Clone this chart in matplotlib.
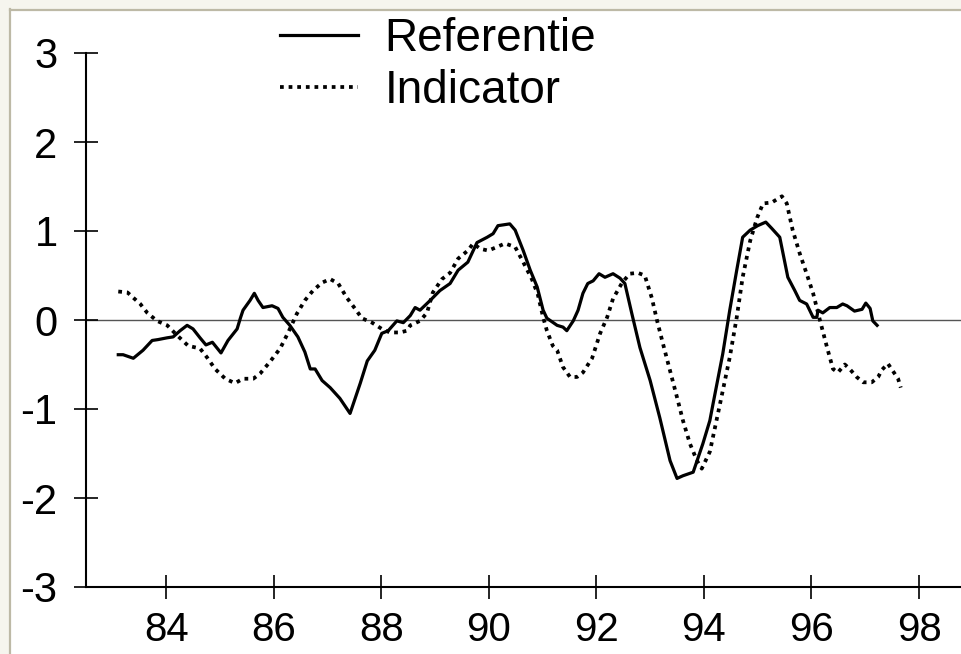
import matplotlib
matplotlib.use("Agg")
import matplotlib.pyplot as plt
from matplotlib.lines import Line2D
from matplotlib.patches import Rectangle

plt.rcParams['font.family'] = ['Liberation Sans', 'DejaVu Sans']

# Referentie (solid line), years as 83.xx etc.
ref_x = [83.11, 83.20, 83.39, 83.57, 83.74, 83.85, 84.02, 84.13, 84.26, 84.39,
         84.50, 84.63, 84.74, 84.86, 85.02, 85.15, 85.32, 85.38, 85.43, 85.56,
         85.64, 85.71, 85.80, 85.97, 86.08, 86.17, 86.30, 86.45, 86.58, 86.68,
         86.77, 86.90, 87.05, 87.23, 87.42, 87.61, 87.74, 87.88, 88.01, 88.13,
         88.29, 88.41, 88.54, 88.63, 88.72, 88.91, 89.09, 89.28, 89.43, 89.61,
         89.78, 89.97, 90.08, 90.17, 90.39, 90.49, 90.64, 90.77, 90.90, 91.01,
         91.08, 91.27, 91.38, 91.45, 91.57, 91.66, 91.75, 91.84, 91.94, 92.05,
         92.16, 92.31, 92.44, 92.53, 92.66, 92.81, 93.00, 93.18, 93.37, 93.50,
         93.61, 93.80, 93.98, 94.11, 94.17, 94.35, 94.48, 94.61, 94.72, 94.86,
         95.00, 95.15, 95.26, 95.41, 95.56, 95.69, 95.78, 95.91, 96.03, 96.10,
         96.12, 96.21, 96.34, 96.47, 96.58, 96.66, 96.80, 96.94, 97.01, 97.09,
         97.14, 97.22]
ref_y = [-0.39, -0.39, -0.43, -0.34, -0.23, -0.22, -0.20, -0.19, -0.12, -0.06,
         -0.10, -0.20, -0.28, -0.25, -0.37, -0.23, -0.10, 0.02, 0.11, 0.22,
         0.30, 0.22, 0.14, 0.16, 0.13, 0.03, -0.06, -0.19, -0.36, -0.55,
         -0.55, -0.68, -0.76, -0.88, -1.05, -0.71, -0.46, -0.34, -0.15, -0.12,
         -0.01, -0.03, 0.05, 0.14, 0.11, 0.22, 0.33, 0.41, 0.56, 0.65,
         0.87, 0.93, 0.97, 1.06, 1.08, 1.01, 0.78, 0.56, 0.37, 0.11,
         0.02, -0.06, -0.08, -0.12, -0.01, 0.11, 0.30, 0.41, 0.44, 0.52,
         0.48, 0.52, 0.47, 0.41, 0.07, -0.31, -0.68, -1.10, -1.58, -1.78,
         -1.75, -1.71, -1.39, -1.13, -0.94, -0.38, 0.11, 0.56, 0.93, 1.01,
         1.06, 1.10, 1.03, 0.93, 0.48, 0.33, 0.22, 0.18, 0.03, 0.03,
         0.11, 0.08, 0.14, 0.14, 0.18, 0.16, 0.10, 0.12, 0.19, 0.13,
         -0.01, -0.06]

# Indicator (dotted line)
ind_x = [83.11, 83.28, 83.39, 83.52, 83.65, 83.83, 84.02, 84.20, 84.41, 84.63,
         84.76, 84.91, 85.10, 85.28, 85.43, 85.62, 85.75, 85.93, 86.12, 86.27,
         86.43, 86.58, 86.73, 86.90, 87.05, 87.20, 87.36, 87.51, 87.64, 87.83,
         88.01, 88.16, 88.35, 88.48, 88.54, 88.72, 88.85, 88.96, 89.13, 89.28,
         89.43, 89.61, 89.71, 89.84, 89.99, 90.15, 90.30, 90.49, 90.64, 90.80,
         90.91, 91.01, 91.08, 91.19, 91.27, 91.38, 91.51, 91.64, 91.75, 91.92,
         92.07, 92.20, 92.31, 92.48, 92.62, 92.77, 92.90, 93.03, 93.13, 93.24,
         93.37, 93.50, 93.61, 93.74, 93.87, 93.96, 94.11, 94.30, 94.48, 94.61,
         94.72, 94.86, 94.99, 95.10, 95.26, 95.45, 95.54, 95.65, 95.78, 95.91,
         96.03, 96.16, 96.29, 96.40, 96.49, 96.62, 96.71, 96.84, 96.96, 97.12,
         97.24, 97.31, 97.42, 97.51, 97.61, 97.66]
ind_y = [0.32, 0.31, 0.25, 0.18, 0.08, -0.01, -0.06, -0.17, -0.29, -0.32,
         -0.42, -0.55, -0.66, -0.71, -0.66, -0.66, -0.60, -0.47, -0.32, -0.14,
         0.07, 0.22, 0.33, 0.42, 0.46, 0.41, 0.25, 0.13, 0.02, -0.03,
         -0.10, -0.14, -0.14, -0.12, -0.06, -0.01, 0.08, 0.31, 0.46, 0.53,
         0.69, 0.78, 0.86, 0.80, 0.78, 0.82, 0.86, 0.82, 0.65, 0.46,
         0.29, 0.03, -0.12, -0.29, -0.34, -0.53, -0.64, -0.64, -0.59, -0.43,
         -0.15, 0.03, 0.24, 0.42, 0.52, 0.53, 0.50, 0.25, -0.01, -0.27,
         -0.57, -0.87, -1.13, -1.39, -1.58, -1.67, -1.48, -0.94, -0.42, 0.03,
         0.48, 0.89, 1.15, 1.31, 1.32, 1.39, 1.31, 1.01, 0.75, 0.52,
         0.30, -0.01, -0.31, -0.55, -0.59, -0.50, -0.55, -0.64, -0.70, -0.70,
         -0.64, -0.56, -0.49, -0.57, -0.66, -0.76]

x_ticks = [84, 86, 88, 90, 92, 94, 96, 98]
y_ticks = [-3, -2, -1, 0, 1, 2, 3]

W, H = 961, 654
fig = plt.figure(figsize=(W / 100, H / 100), dpi=100)

# light frame like the scanned original
fig.patches.append(Rectangle((0, 0), 9 / W, 1, transform=fig.transFigure,
                             color='#f6f5ee', zorder=0))
fig.patches.append(Rectangle((0, 1 - 9 / H), 1, 9 / H, transform=fig.transFigure,
                             color='#f6f5ee', zorder=0))
fig.lines.append(Line2D([9.5 / W, 9.5 / W], [0, 1 - 9 / H], transform=fig.transFigure,
                        color='#bdb9a6', lw=1.6))
fig.lines.append(Line2D([9.5 / W, 1], [1 - 9.5 / H, 1 - 9.5 / H], transform=fig.transFigure,
                        color='#bdb9a6', lw=1.6))

ax = fig.add_axes([86 / W, 1 - 587 / H, 1 - 86 / W, (587 - 53) / H])

ax.axhline(0, color='#555555', lw=1.0, zorder=1)
ax.plot(ref_x, ref_y, color='black', lw=2.3, label='Referentie', zorder=3)
ax.plot(ind_x, ind_y, color='black', lw=2.7, linestyle=(0, (1, 1.3)),
        label='Indicator', zorder=2)

ax.set_xlim(82.51, 98.78)
ax.set_ylim(-3, 3)
ax.set_xticks(x_ticks)
ax.set_yticks(y_ticks)
ax.set_xticklabels([str(t) for t in x_ticks])
ax.set_yticklabels([str(t) for t in y_ticks])

for s in ['top', 'right']:
    ax.spines[s].set_visible(False)
for s in ['left', 'bottom']:
    ax.spines[s].set_linewidth(1.5)

ax.tick_params(axis='both', direction='inout', length=17, width=1.2,
               labelsize=30, colors='black')
ax.tick_params(axis='y', pad=12)
ax.tick_params(axis='x', labelsize=29, pad=9)

leg = fig.legend(loc='upper left', bbox_to_anchor=(280 / W, 1 - 17 / H),
                 frameon=False, fontsize=33, handlelength=1.7,
                 handletextpad=0.58, labelspacing=0.18, borderpad=0,
                 borderaxespad=0)

fig.savefig('out.png', dpi=100)
